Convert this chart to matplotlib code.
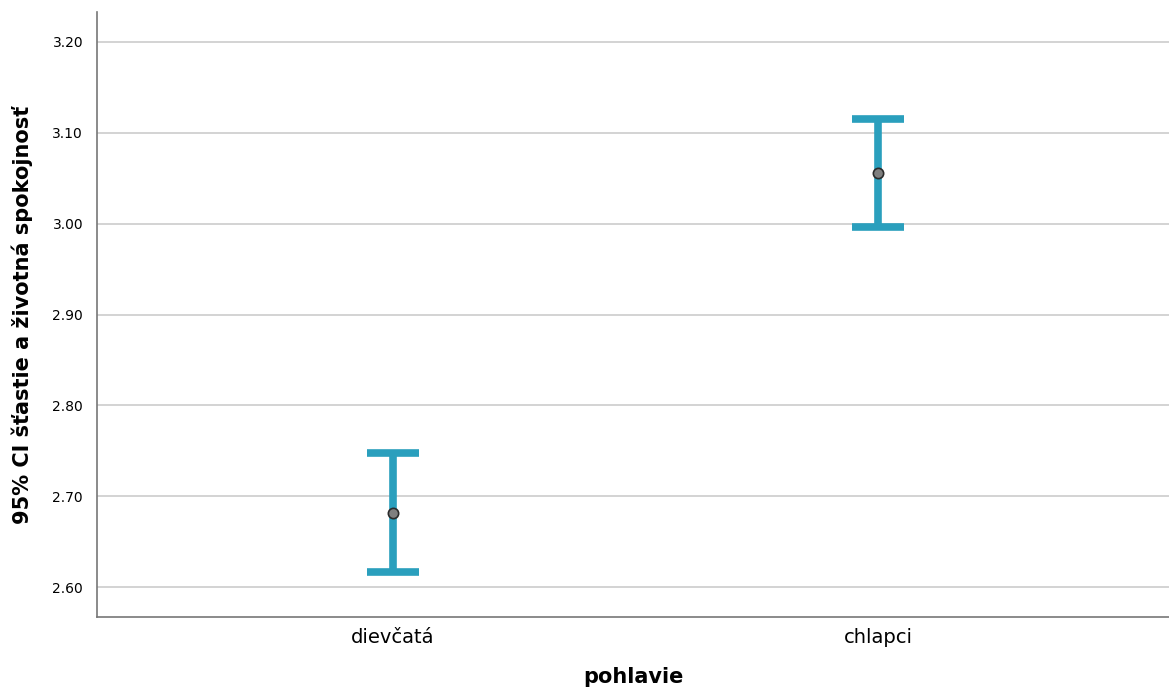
import matplotlib.pyplot as plt

# data (SPSS-style error bar chart)
groups = ['dievčatá', 'chlapci']
means = [2.682, 3.056]
ci_low = [2.616, 2.996]
ci_high = [2.748, 3.115]
y_ticks = [2.60, 2.70, 2.80, 2.90, 3.00, 3.10, 3.20]

bar_color = '#2a9fbd'

fig = plt.figure(figsize=(11.69, 6.93), dpi=100)
ax = fig.add_axes([97 / 1169, 1 - 617 / 693, 1072 / 1169, 605 / 693])

x = list(range(len(groups)))
err = [[m - lo for m, lo in zip(means, ci_low)],
       [hi - m for m, hi in zip(means, ci_high)]]
ax.errorbar(x, means, yerr=err, fmt='none', ecolor=bar_color,
            elinewidth=5.5, capsize=19, capthick=5.5, zorder=3)
ax.scatter(x, means, s=55, color='#7f7f7f', edgecolor='#2b2b2b',
           linewidth=1.2, zorder=4)

ax.set_xlim(-0.61, 1.60)
ax.set_ylim(2.567, 3.233)
ax.set_yticks(y_ticks)
ax.set_yticklabels([f'{v:.2f}' for v in y_ticks], fontsize=10)
ax.set_xticks(x)
ax.set_xticklabels(groups, fontsize=14)
ax.tick_params(length=0, pad=8)
ax.tick_params(axis='y', pad=10)

ax.grid(axis='y', color='#c8c8c8', linewidth=1.1)
ax.set_axisbelow(True)
for s in ['top', 'right']:
    ax.spines[s].set_visible(False)
for s in ['left', 'bottom']:
    ax.spines[s].set_color('#777777')
    ax.spines[s].set_linewidth(1.2)

ax.set_ylabel('95% CI šťastie a životná spokojnosť', fontsize=15,
              fontweight='bold', labelpad=14)
ax.set_xlabel('pohlavie', fontsize=15, fontweight='bold', labelpad=14)

fig.savefig('out.png', dpi=100)
